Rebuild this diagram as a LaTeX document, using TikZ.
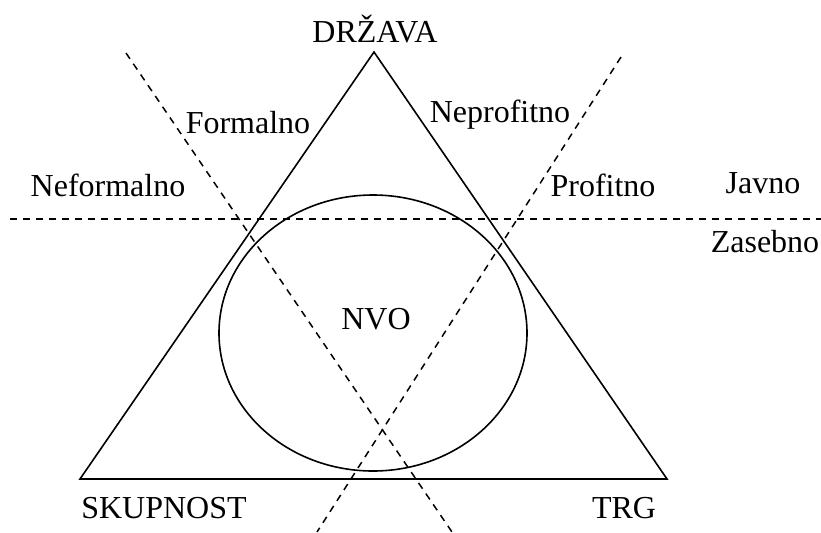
\documentclass[tikz,border=0pt]{standalone}
\usepackage{fontspec}
\setmainfont{Liberation Serif}
\usetikzlibrary{calc}

\tikzset{
  divider/.style={dash pattern=on 3.5pt off 3pt, line width=0.75pt},
  sector/.style={anchor=base, inner sep=0pt, font=\fontsize{16}{19}\selectfont}
}

\begin{document}
\begin{tikzpicture}[x=0.5pt, y=-0.5pt, line width=0.8pt]
    \useasboundingbox (0,0) rectangle (821,532);
    %%Triangle
    \coordinate (apex) at (374,52);
    \coordinate (community) at (80,479);
    \coordinate (market) at (667,479);
    \draw (apex) -- (community) -- (market) -- cycle;
    %%NVO oval
    \draw (373,333) ellipse [x radius=77pt, y radius=69pt];
    %%Dividing lines
    \coordinate (pubW) at (10,219);
    \coordinate (pubE) at (821,219);
    \coordinate (formN) at (126,53);
    \coordinate (formS) at (452,532);
    \coordinate (profN) at (621,57);
    \coordinate (profS) at (317,532);
    \draw[divider] (pubW) -- (pubE);
    \draw[divider] (formN) -- (formS);
    \draw[divider] (profN) -- (profS);
    %%Corners
    \node[sector] (drzava) at (375,42) {DRŽAVA};
    \node[sector] (skupnost) at (164,518) {SKUPNOST};
    \node[sector] (trg) at (624,518) {TRG};
    \node[sector] (nvo) at (376,329) {NVO};
    %%Sides
    \node[sector] (formalno) at (248,133) {Formalno};
    \node[sector] (neprofitno) at (500,122) {Neprofitno};
    \node[sector] (neformalno) at (108,196) {Neformalno};
    \node[sector] (profitno) at (603,196) {Profitno};
    \node[sector] (javno) at (763,193) {Javno};
    \node[sector] (zasebno) at (765,252) {Zasebno};
\end{tikzpicture}
\end{document}
